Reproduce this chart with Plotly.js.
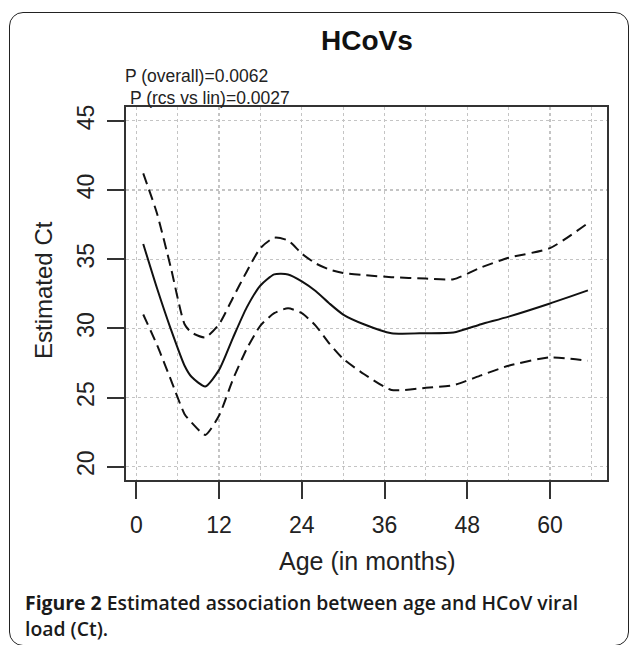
<!DOCTYPE html>
<html>
<head>
<meta charset="utf-8">
<script src="https://cdn.plot.ly/plotly-3.0.1.min.js"></script>
<style>
  html, body { margin: 0; padding: 0; background: #fff; overflow: hidden; }
  #wrap { position: relative; width: 629px; height: 645px; }
  #chart { position: absolute; left: 0; top: 0; width: 629px; height: 645px; }
  #frame { position: absolute; left: 9px; top: 12px; width: 620px; height: 634px;
           box-sizing: border-box; border: 1.6px solid #222; border-radius: 14px;
           pointer-events: none; }
</style>
</head>
<body>
<div id="wrap">
  <div id="chart"></div>
  <div id="frame"></div>
</div>
<script>
// Age in months
const ageMonths = [1, 3, 5, 7, 8, 10, 12, 14, 16, 18, 20, 22, 24, 26, 28, 30, 33, 37, 42, 46, 50, 54, 60, 65.5];
// Estimated Ct (restricted cubic spline fit)
const ctFit   = [36.1, 32.9, 29.95, 27.3, 26.5, 25.8, 27.0, 29.3, 31.5, 33.1, 33.9, 33.9, 33.4, 32.7, 31.8, 31.0, 30.3, 29.65, 29.65, 29.7, 30.3, 30.85, 31.8, 32.75];
// 95% confidence limits
const ctUpper = [41.2, 38.3, 34.4, 30.3, 29.7, 29.35, 30.3, 32.2, 34.1, 35.8, 36.55, 36.35, 35.4, 34.7, 34.25, 34.0, 33.85, 33.7, 33.6, 33.55, 34.4, 35.1, 35.8, 37.6];
const ctLower = [31.0, 28.8, 26.3, 23.8, 23.2, 22.3, 23.7, 26.3, 28.5, 30.2, 31.1, 31.45, 31.1, 30.2, 28.9, 27.8, 26.7, 25.55, 25.7, 25.9, 26.6, 27.3, 27.9, 27.65];

const xTicks = [0, 12, 24, 36, 48, 60];
const yTicks = [20, 25, 30, 35, 40, 45];

const chartTitle = "HCoVs";
const pOverall = "P (overall)=0.0062";
const pRcs = "P (rcs vs lin)=0.0027";
const xTitle = "Age (in months)";
const yTitle = "Estimated Ct";
const captionBold = "Figure 2";
const captionLine1 = " Estimated association between age and HCoV viral";
const captionLine2 = "load (Ct).";

const FONT = "Liberation Sans, Arial, Helvetica, sans-serif";
const CAPFONT = "Open Sans, Noto Sans, sans-serif";
const ink = "#222";

const traces = [
  { x: ageMonths, y: ctUpper, mode: "lines", line: { color: "#111", width: 2, dash: "11px,6px", shape: "spline", smoothing: 0.6 }, hoverinfo: "skip" },
  { x: ageMonths, y: ctLower, mode: "lines", line: { color: "#111", width: 2, dash: "11px,6px", shape: "spline", smoothing: 0.6 }, hoverinfo: "skip" },
  { x: ageMonths, y: ctFit, mode: "lines", line: { color: "#111", width: 2, shape: "spline", smoothing: 0.6 }, hoverinfo: "skip" }
];

const L = 126, R = 22, T = 107, B = 165;
const PW = 629 - L - R, PH = 645 - T - B;
const px2x = px => (px - L) / PW;
const py2y = py => (645 - B - py) / PH;

const layout = {
  width: 629, height: 645,
  margin: { l: L, r: R, t: T, b: B, pad: 0 },
  paper_bgcolor: "#fff", plot_bgcolor: "#fff",
  showlegend: false,
  font: { family: FONT, color: ink },
  xaxis: {
    range: [-1.5, 68.27],
    tickmode: "array", tickvals: xTicks, ticktext: xTicks.map(String),
    ticks: "outside", ticklen: 17, tickwidth: 2, tickcolor: "#333",
    tickfont: { size: 23, color: ink, family: FONT },
    ticklabelstandoff: 6,
    showline: true, linecolor: "#333", linewidth: 2, mirror: true,
    showgrid: true, gridcolor: "#c4c4c4", gridwidth: 1.2, griddash: "dot",
    minor: { dtick: 6, tick0: 0, showgrid: true, gridcolor: "#c4c4c4", gridwidth: 1.2, griddash: "dot", ticks: "" },
    zeroline: false
  },
  yaxis: {
    range: [19.04, 46.0],
    tickmode: "array", tickvals: yTicks, ticktext: yTicks.map(String),
    ticks: "outside", ticklen: 17, tickwidth: 2, tickcolor: "#333",
    tickangle: -90,
    tickfont: { size: 23, color: ink, family: FONT },
    ticklabelstandoff: 4,
    showline: true, linecolor: "#333", linewidth: 2, mirror: true,
    showgrid: true, gridcolor: "#c4c4c4", gridwidth: 1.2, griddash: "dot",
    zeroline: false
  },
  annotations: [
    { text: "<b>" + chartTitle + "</b>", xref: "paper", yref: "paper", x: 0.5, y: py2y(40),
      xanchor: "center", yanchor: "middle", showarrow: false, font: { size: 28, color: "#111", family: FONT } },
    { text: pOverall, xref: "paper", yref: "paper", x: px2x(123), y: py2y(76),
      xanchor: "left", yanchor: "middle", showarrow: false, font: { size: 17.5, color: ink, family: FONT } },
    { text: pRcs, xref: "paper", yref: "paper", x: px2x(128), y: py2y(98),
      xanchor: "left", yanchor: "middle", showarrow: false, font: { size: 17.5, color: ink, family: FONT } },
    { text: yTitle, xref: "paper", yref: "paper", x: px2x(43), y: py2y(290), textangle: -90,
      xanchor: "center", yanchor: "middle", showarrow: false, font: { size: 24, color: ink, family: FONT } },
    { text: xTitle, xref: "paper", yref: "paper", x: 0.5, y: py2y(561),
      xanchor: "center", yanchor: "middle", showarrow: false, font: { size: 25, color: ink, family: FONT } },
    { text: "<b>" + captionBold + "</b>" + "<span style='font-weight:600'>" + captionLine1 + "</span>", xref: "paper", yref: "paper", x: px2x(23), y: py2y(602),
      xanchor: "left", yanchor: "middle", showarrow: false, font: { size: 19.4, color: "#1a1a1a", family: CAPFONT } },
    { text: "<span style='font-weight:600'>" + captionLine2 + "</span>", xref: "paper", yref: "paper", x: px2x(23), y: py2y(628),
      xanchor: "left", yanchor: "middle", showarrow: false, font: { size: 19.4, color: "#1a1a1a", family: CAPFONT } }
  ]
};

Plotly.newPlot("chart", traces, layout, { displayModeBar: false, staticPlot: true });
</script>
</body>
</html>
